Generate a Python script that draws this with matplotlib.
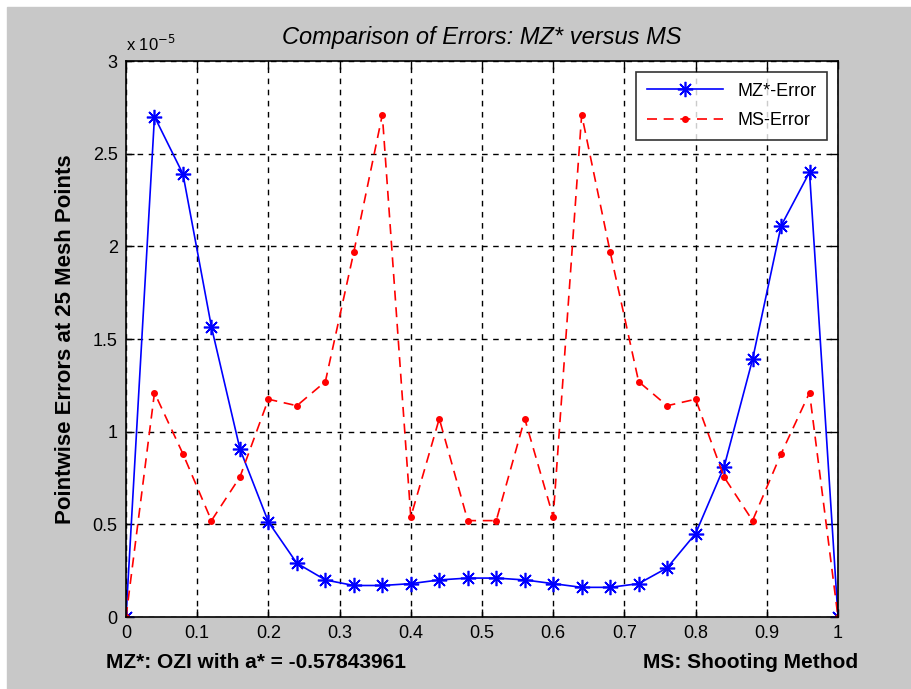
import numpy as np
import matplotlib
matplotlib.use("Agg")
import matplotlib.pyplot as plt
from matplotlib.ticker import FuncFormatter

plt.rcParams['font.family'] = ['Liberation Sans', 'DejaVu Sans']

# mesh points and errors (in units of 1e-5)
x = np.linspace(0, 1, 26)
mz_err = [0, 2.70, 2.39, 1.565, 0.907, 0.513, 0.29, 0.20, 0.17, 0.17, 0.18, 0.20, 0.21,
          0.21, 0.20, 0.18, 0.16, 0.16, 0.18, 0.265, 0.45, 0.81, 1.39, 2.11, 2.40, 0]
ms_err = [0, 1.21, 0.88, 0.52, 0.755, 1.175, 1.14, 1.27, 1.97, 2.71, 0.54, 1.07, 0.52,
          0.52, 1.07, 0.54, 2.71, 1.97, 1.27, 1.14, 1.175, 0.755, 0.52, 0.88, 1.21, 0]
scale = 1e-5

fig = plt.figure(figsize=(9.12, 6.89), dpi=100, facecolor='white')
# gray matlab-like background (thin white strip top/left)
fig.patches.append(plt.Rectangle((7/912, 0), 1, 1 - 7/689, transform=fig.transFigure,
                                 color='#c8c8c8', zorder=-10))

ax = fig.add_axes([126/912, 72/689, 712/912, 556/689])
# matlab style asterisk marker (8 spokes)
ax.plot(x, np.array(mz_err) * scale, '-', marker=(8, 2, 0), color='blue', lw=1.2,
        ms=11, mew=1.2, label='MZ*-Error')
ax.plot(x, np.array(ms_err) * scale, '--.', color='red', lw=1.2, ms=8, dashes=(6, 4),
        label='MS-Error')

ax.set_xlim(0, 1)
ax.set_ylim(0, 3e-5)
ax.set_xticks(np.arange(0, 1.01, 0.1))
ax.set_yticks(np.arange(0, 3.01e-5, 0.5e-5))
ax.xaxis.set_major_formatter(FuncFormatter(lambda v, p: '%g' % round(v, 2)))
ax.yaxis.set_major_formatter(FuncFormatter(lambda v, p: '%g' % round(v / scale, 2)))
ax.tick_params(direction='in', top=True, right=True, labelsize=13, length=6, width=1, pad=6)
ax.grid(True, color='black', ls=(0, (4, 4)), lw=1)
for s in ax.spines.values():
    s.set_linewidth(1.2)

ax.set_title('Comparison of Errors: MZ* versus MS', fontsize=17, style='italic', pad=12)
ax.set_ylabel('Pointwise Errors at 25 Mesh Points', fontsize=16, fontweight='bold', labelpad=12)
ax.text(0, 1.012, r'x 10$^{-5}$', transform=ax.transAxes, fontsize=12, va='bottom', ha='left')

leg = ax.legend(loc='upper right', fontsize=13, frameon=True, fancybox=False,
                edgecolor='black', borderaxespad=0.6, handlelength=4.2,
                borderpad=0.6, labelspacing=0.7)
leg.get_frame().set_linewidth(1.2)

fig.text(106/912, 1 - 663/689, 'MZ*: OZI with a* = -0.57843961', fontsize=15,
         fontweight='bold', va='center', ha='left')
fig.text(858/912, 1 - 663/689, 'MS: Shooting Method', fontsize=15,
         fontweight='bold', va='center', ha='right')

fig.savefig('out.png', dpi=100, facecolor=fig.get_facecolor())
